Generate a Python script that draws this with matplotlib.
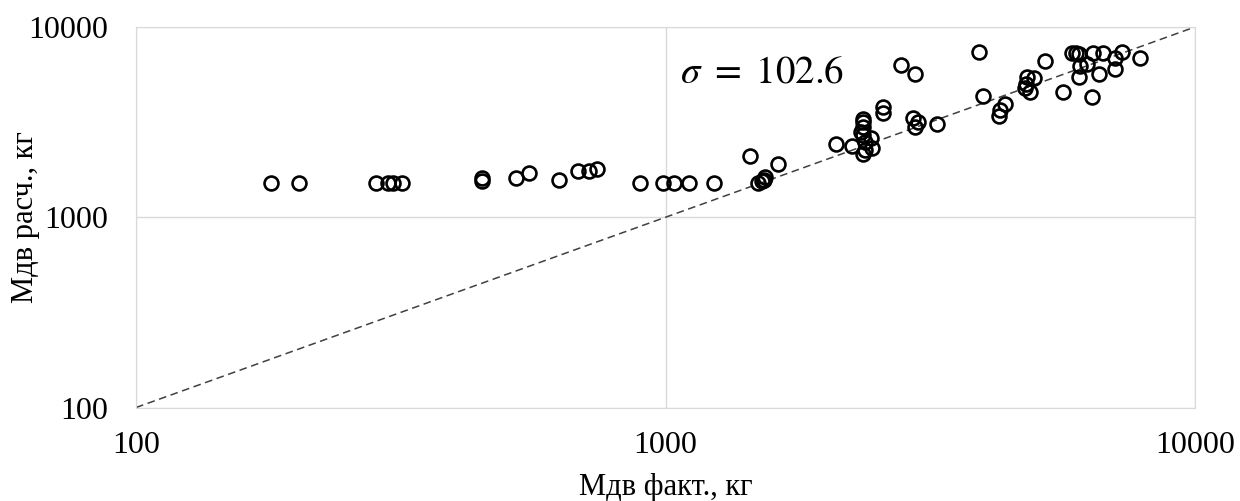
import matplotlib
matplotlib.use('Agg')
import matplotlib.pyplot as plt
import numpy as np

plt.rcParams['font.family'] = ['Liberation Serif', 'DejaVu Serif']
plt.rcParams['mathtext.fontset'] = 'stix'

# measured vs calculated mass, kg
m_fact = [180, 203, 284, 299, 306, 318, 451, 451, 521, 552,
          628, 684, 718, 741, 895, 990, 1039, 1108, 1237, 1444,
          1633, 1497, 1535, 1542, 1521, 2099, 2247, 2363, 2363, 2363,
          2340, 2363, 2381, 2439, 2451, 2363, 2381, 2578, 2578, 2938,
          2960, 3003, 3252, 2782, 2964, 3913, 3983, 4377, 4282, 4264,
          4811, 4965, 4775, 4880, 5208, 5641, 5850, 5948, 6046, 6425,
          6704, 7271, 7063, 7858, 6064, 6243, 6046, 6574, 7063, 6397,
          4796]
m_calc = [1522, 1505, 1505, 1505, 1505, 1505, 1600, 1550, 1610, 1711,
          1579, 1753, 1753, 1789, 1505, 1505, 1505, 1522, 1505, 2095,
          1901, 1505, 1579, 1630, 1547, 2423, 2364, 3299, 3162, 2977,
          2811, 2702, 2491, 2596, 2308, 2146, 2252, 3793, 3527, 3308,
          2988, 3174, 3075, 6332, 5678, 7360, 4361, 3933, 3655, 3414,
          5456, 5423, 4758, 4549, 6624, 4549, 7271, 7271, 7253, 7343,
          7271, 7413, 6912, 6912, 6271, 6386, 5476, 5657, 6009, 4281,
          5012]
sigma = 102.6
ticks = [100, 1000, 10000]

fig = plt.figure(figsize=(12.4, 5.01), dpi=100)
ax = fig.add_axes([0.1097, 0.1866, 0.854, 0.7595])

ax.plot(ticks, ticks, color='#404040', ls='--', lw=1.1, dashes=(5, 3), zorder=2)
ax.plot(m_fact, m_calc, ls='none', marker='o', ms=10, mfc='none',
        mec='black', mew=1.9, zorder=3)

ax.set_xscale('log')
ax.set_yscale('log')
ax.set_xlim(100, 10000)
ax.set_ylim(100, 10000)
ax.set_xticks(ticks)
ax.set_yticks(ticks)
ax.set_xticklabels([str(t) for t in ticks])
ax.set_yticklabels([str(t) for t in ticks])
ax.minorticks_off()
ax.tick_params(length=0, labelsize=23)
ax.tick_params(axis='x', pad=17)
ax.tick_params(axis='y', pad=20)
ax.grid(True, color='#d9d9d9', lw=1)
for s in ax.spines.values():
    s.set_color('#d9d9d9')

ax.set_xlabel('Мдв факт., кг', fontsize=22, labelpad=9)
ax.set_ylabel('Мдв расч., кг', fontsize=22)
ax.yaxis.set_label_coords(-0.0907, 0.5)

ax.text(1065, 5730, r'$\sigma\ =\ 102.6$'.replace('102.6', str(sigma)),
        fontsize=28, va='center', ha='left')

fig.savefig('out.png', dpi=100)
